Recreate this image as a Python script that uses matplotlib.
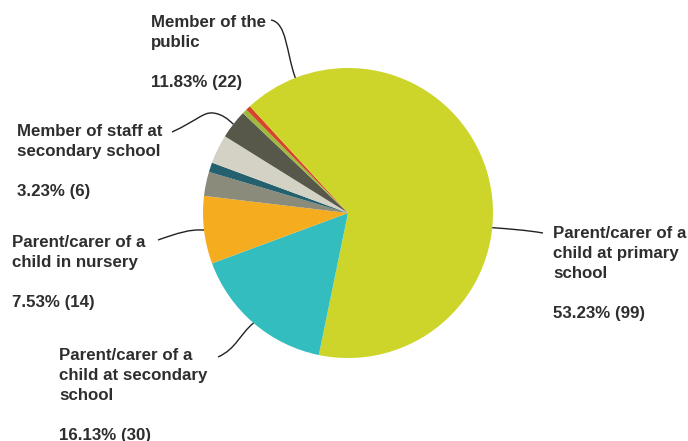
import numpy as np
import matplotlib.pyplot as plt
from matplotlib.path import Path
from matplotlib.patches import PathPatch

plt.rcParams['font.family'] = ['Liberation Sans', 'DejaVu Sans']

groups = ['Parent/carer of a\nchild at primary\nschool',
          'Parent/carer of a\nchild at secondary\nschool',
          'Parent/carer of a\nchild in nursery',
          'Other (a)', 'Other (b)', 'Other (c)',
          'Member of staff at\nsecondary school',
          'Other (d)', 'Other (e)',
          'Member of the\npublic']
counts = [99, 30, 14, 5, 2, 6, 6, 1, 1, 22]
colors = ['#CDD52A', '#33BDBF', '#F5AD1F', '#8A8B7B', '#24606D',
          '#D4D2C5', '#57574A', '#9EBB3C', '#D6452A', '#CDD52A']
labelled = [0, 1, 2, 6, 9]

W, H = 688, 441
CX, CY, R = 348, 213, 145


def px(x, y):
    # figure pixels -> data units (pie radius = 1)
    return (x - CX) / R, (CY - y) / R


fig = plt.figure(figsize=(W / 100, H / 100), dpi=100)
ax = fig.add_axes([0, 0, 1, 1])

wedges, _ = ax.pie(counts, colors=colors, startangle=90, counterclock=False,
                   radius=1, center=(0, 0), wedgeprops=dict(linewidth=0))

# pie() resets the limits, so map the axes onto figure pixels afterwards
ax.set_xlim(-CX / R, (W - CX) / R)
ax.set_ylim(-(H - CY) / R, CY / R)
ax.set_aspect('auto')
ax.axis('off')

total = sum(counts)

# label text positions (left edge, first-line centre) and leader curves
text_pos = {0: (553, 232), 1: (59, 354), 2: (12, 241), 6: (17, 130), 9: (151, 21)}
leader_ctrl = {
    0: [(543, 233), (525, 230), (510, 229)],
    1: [(218, 357), (236, 349), (240, 334)],
    2: [(158, 240), (178, 233), (190, 229)],
    6: [(172, 132), (198, 120), (200, 108)],
    9: [(271, 20), (287, 23), (286, 52)],
}

for i in labelled:
    w = wedges[i]
    mid = np.deg2rad((w.theta1 + w.theta2) / 2)
    edge = (np.cos(mid), np.sin(mid))
    pct = counts[i] / total * 100
    tx, ty = px(*text_pos[i])
    ax.text(tx, ty + 6 / R, f'{groups[i]}\n\n{pct:.2f}% ({counts[i]})',
            ha='left', va='top', fontsize=12.2, fontweight='bold',
            color='#2E2E2E', linespacing=1.42)
    p0, c1, c2 = [px(*p) for p in leader_ctrl[i]]
    if i == 6:
        mid_pt = px(213, 113)
        verts = [p0, c1, px(203, 112), mid_pt, px(222, 114), px(228, 119), edge]
        codes = [Path.MOVETO] + [Path.CURVE4] * 6
    else:
        verts = [p0, c1, c2, edge]
        codes = [Path.MOVETO, Path.CURVE4, Path.CURVE4, Path.CURVE4]
    ax.add_patch(PathPatch(Path(verts, codes), fill=False,
                           edgecolor='#222222', linewidth=1.0))

fig.savefig('out.png', dpi=100)
